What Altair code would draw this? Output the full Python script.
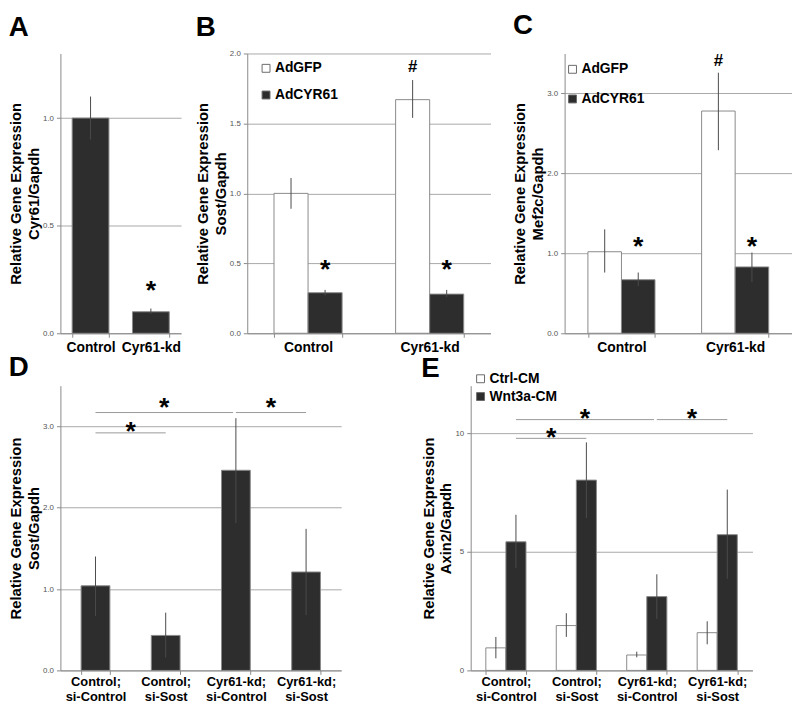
import altair as alt
import pandas as pd

FONT = "Liberation Sans"
DARK = "#2d2d2d"
EDGE = "#8a8a8a"
GRID = "#a8a8a8"
AXC = "#8a8a8a"
ERR = "#4a4a4a"
SIG = "#9a9a9a"

# ---------------- data ----------------
a_groups = ["Control", "Cyr61-kd"]
a_series = ["value"]
a_mean = [1.00, 0.10]
a_lo = [0.90, 0.09]
a_hi = [1.10, 0.115]
a_star = [None, 0.23]

b_groups = ["Control", "Cyr61-kd"]
b_series = ["AdGFP", "AdCYR61"]
b_gfp = [1.00, 1.67]
b_gfp_lo = [0.89, 1.54]
b_gfp_hi = [1.11, 1.81]
b_cyr = [0.29, 0.28]
b_cyr_lo = [0.27, 0.26]
b_cyr_hi = [0.31, 0.31]
b_star_cyr = [0.50, 0.50]
b_hash_gfp = [None, 1.91]

c_groups = ["Control", "Cyr61-kd"]
c_series = ["AdGFP", "AdCYR61"]
c_gfp = [1.02, 2.78]
c_gfp_lo = [0.76, 2.29]
c_gfp_hi = [1.30, 3.26]
c_cyr = [0.67, 0.83]
c_cyr_lo = [0.59, 0.64]
c_cyr_hi = [0.76, 1.01]
c_star_cyr = [1.17, 1.17]
c_hash_gfp = [None, 3.42]

d_groups = ["Control;\nsi-Control", "Control;\nsi-Sost",
            "Cyr61-kd;\nsi-Control", "Cyr61-kd;\nsi-Sost"]
d_series = ["value"]
d_mean = [1.04, 0.43, 2.46, 1.21]
d_lo = [0.67, 0.16, 1.81, 0.68]
d_hi = [1.40, 0.71, 3.10, 1.74]
d_cmp_from = [0, 0, 2]
d_cmp_to = [1, 2, 3]
d_cmp_line = [2.92, 3.17, 3.17]
d_cmp_star = [3.02, 3.31, 3.31]

e_groups = ["Control;\nsi-Control", "Control;\nsi-Sost",
            "Cyr61-kd;\nsi-Control", "Cyr61-kd;\nsi-Sost"]
e_series = ["Ctrl-CM", "Wnt3a-CM"]
e_ctrl = [0.95, 1.89, 0.65, 1.59]
e_ctrl_lo = [0.51, 1.41, 0.55, 1.10]
e_ctrl_hi = [1.41, 2.41, 0.79, 2.07]
e_wnt = [5.42, 8.02, 3.11, 5.72]
e_wnt_lo = [4.31, 6.42, 2.17, 3.86]
e_wnt_hi = [6.56, 9.61, 4.05, 7.62]
e_cmp_from = [0, 0, 2]
e_cmp_to = [1, 2, 3]
e_cmp_line = [9.78, 10.57, 10.57]
e_cmp_star = [10.10, 10.90, 10.90]


def panel(letter, groups, series, means, los, his, ytitle, ymax, yticks, yfmt,
          width, height, pad, fills, title_offset, legend=None, stars=None,
          hashes=None, cmp=None, cmp_series=0, multiline=False):
    n = len(groups)
    m = len(series)

    def center(i, j):
        return i + pad / 2 + (j + 0.5) * (1 - pad) / m

    bars = []
    errs = []
    for j, s in enumerate(series):
        for i, g in enumerate(groups):
            bars.append({"g": g, "s": s, "v": means[j][i]})
            errs.append({"x": center(i, j), "lo": los[j][i], "hi": his[j][i]})
    bars = pd.DataFrame(bars)
    errs = pd.DataFrame(errs)

    yscale = alt.Scale(domain=[0, ymax], nice=False, zero=True)
    yaxis = alt.Axis(values=yticks, format=yfmt, title=ytitle, grid=True,
                     gridColor=GRID, gridWidth=1, domainColor=AXC, tickColor=AXC,
                     tickSize=4, labelFontSize=8, labelColor="#555555",
                     labelFont=FONT, labelPadding=3, titleFont=FONT,
                     titleFontSize=15, titleFontWeight="bold", titleColor="black",
                     titlePadding=1, titleLineHeight=18)
    xaxis_kw = dict(title=None, labelAngle=0, labelFont=FONT,
                    labelFontSize=13 if multiline else 14, labelFontWeight="bold",
                    labelColor="black", domainColor=AXC, tickColor=AXC, tickSize=4,
                    tickBand="extent", labelPadding=1 if multiline else 3,
                    labelLineHeight=15)
    if multiline:
        xaxis_kw["labelExpr"] = "split(datum.label, '\\n')"
    xaxis = alt.Axis(**xaxis_kw)

    enc = dict(
        x=alt.X("g:N", sort=groups, axis=xaxis,
                scale=alt.Scale(paddingInner=pad, paddingOuter=pad / 2)),
        y=alt.Y("v:Q", scale=yscale, axis=yaxis),
    )
    if m > 1:
        enc["xOffset"] = alt.XOffset("s:N", sort=series,
                                     scale=alt.Scale(domain=series, paddingInner=0,
                                                     paddingOuter=0))
        if legend is not None:
            leg = alt.Legend(orient="none", legendX=legend[0], legendY=legend[1],
                             direction="vertical", title=None, symbolType="square",
                             symbolSize=64, symbolStrokeColor="#6a6a6a",
                             symbolStrokeWidth=1, labelFont=FONT, labelFontSize=14,
                             labelFontWeight="bold", labelColor="black",
                             rowPadding=legend[2], labelOffset=2, padding=0)
        else:
            leg = None
        enc["color"] = alt.Color("s:N", sort=series,
                                 scale=alt.Scale(domain=series, range=fills),
                                 legend=leg)
    else:
        enc["color"] = alt.value(fills[0])

    bar_layer = alt.Chart(bars).mark_bar(stroke=EDGE, strokeWidth=1).encode(**enc)

    xq = alt.Scale(domain=[0, n], nice=False, zero=False)
    q_layers = [
        alt.Chart(errs).mark_rule(color=ERR, strokeWidth=1).encode(
            x=alt.X("x:Q", scale=xq, axis=None),
            y=alt.Y("lo:Q", scale=yscale, axis=yaxis),
            y2="hi:Q",
        )
    ]

    star_rows = []
    hash_rows = []
    if stars is not None:
        for j in range(m):
            if stars[j] is None:
                continue
            for i in range(n):
                if stars[j][i] is not None:
                    star_rows.append({"x": center(i, j), "y": stars[j][i]})
    if hashes is not None:
        for j in range(m):
            if hashes[j] is None:
                continue
            for i in range(n):
                if hashes[j][i] is not None:
                    hash_rows.append({"x": center(i, j), "y": hashes[j][i]})
    if cmp is not None:
        f_list, t_list, line_list, star_list = cmp
        rules = []
        for f, t, ly, sy in zip(f_list, t_list, line_list, star_list):
            x1 = center(f, cmp_series)
            x2 = center(t, cmp_series)
            if t in f_list:
                x2 -= 0.04
            rules.append({"x": x1, "x2": x2, "y": ly})
            star_rows.append({"x": (x1 + x2) / 2, "y": sy})
        q_layers.append(
            alt.Chart(pd.DataFrame(rules)).mark_rule(color=SIG, strokeWidth=1).encode(
                x=alt.X("x:Q", scale=xq, axis=None),
                x2="x2:Q",
                y=alt.Y("y:Q", scale=yscale, axis=yaxis),
            )
        )
    if star_rows:
        q_layers.append(
            alt.Chart(pd.DataFrame(star_rows)).mark_text(
                text="*", font=FONT, fontSize=27, fontWeight="bold", color="black",
                baseline="alphabetic", dy=15).encode(
                x=alt.X("x:Q", scale=xq, axis=None),
                y=alt.Y("y:Q", scale=yscale, axis=yaxis),
            )
        )
    if hash_rows:
        q_layers.append(
            alt.Chart(pd.DataFrame(hash_rows)).mark_text(
                text="#", font=FONT, fontSize=17, fontWeight="bold", color="black",
                baseline="alphabetic", dy=6).encode(
                x=alt.X("x:Q", scale=xq, axis=None),
                y=alt.Y("y:Q", scale=yscale, axis=yaxis),
            )
        )

    quant = alt.layer(*q_layers)
    return alt.layer(bar_layer, quant).resolve_scale(x="independent").properties(
        width=width, height=height,
        title=alt.TitleParams(letter, anchor="start", frame="bounds", font=FONT,
                              fontSize=28, fontWeight="bold", color="black",
                              offset=title_offset, baseline="top"),
    )


TOP_H = 283
BOT_H = 288

pA = panel("A", a_groups, a_series, [a_mean], [a_lo], [a_hi],
           ["Relative Gene Expression", "Cyr61/Gapdh"], 1.3, [0, 0.5, 1.0], ".1f",
           122, TOP_H, 0.39, [DARK], 12, stars=[a_star])

pB = panel("B", b_groups, b_series, [b_gfp, b_cyr], [b_gfp_lo, b_cyr_lo],
           [b_gfp_hi, b_cyr_hi], ["Relative Gene Expression", "Sost/Gapdh"], 2.0,
           [0, 0.5, 1.0, 1.5, 2.0], ".1f", 246, TOP_H, 0.44, ["white", DARK], 8,
           legend=(12, 8, 13), stars=[None, b_star_cyr], hashes=[b_hash_gfp, None])

pC = panel("C", c_groups, c_series, [c_gfp, c_cyr], [c_gfp_lo, c_cyr_lo],
           [c_gfp_hi, c_cyr_hi], ["Relative Gene Expression", "Mef2c/Gapdh"], 3.5,
           [0, 1, 2, 3], ".1f", 230, TOP_H, 0.41, ["white", DARK], 12,
           legend=(1, 9, 16), stars=[None, c_star_cyr], hashes=[c_hash_gfp, None])

pD = panel("D", d_groups, d_series, [d_mean], [d_lo], [d_hi],
           ["Relative Gene Expression", "Sost/Gapdh"], 3.5, [0, 1, 2, 3], ".1f",
           284, BOT_H, 0.59, [DARK], 4,
           cmp=(d_cmp_from, d_cmp_to, d_cmp_line, d_cmp_star), cmp_series=0,
           multiline=True)

pE = panel("E", e_groups, e_series, [e_ctrl, e_wnt], [e_ctrl_lo, e_wnt_lo],
           [e_ctrl_hi, e_wnt_hi], ["Relative Gene Expression", "Axin2/Gapdh"], 12,
           [0, 5, 10], "d", 285, BOT_H, 0.43, ["white", DARK], -11,
           legend=(3, -14, 4),
           cmp=(e_cmp_from, e_cmp_to, e_cmp_line, e_cmp_star), cmp_series=1,
           multiline=True)

IND = dict(x="independent", y="independent", color="independent",
           xOffset="independent")

top_ab = alt.hconcat(pA, pB, spacing=14).resolve_scale(**IND)
top = alt.hconcat(top_ab, pC, spacing=22).resolve_scale(**IND)
bottom = alt.hconcat(pD, pE, spacing=81).resolve_scale(**IND)

chart = alt.vconcat(top, bottom, spacing=0).resolve_scale(**IND).properties(
    padding={"left": 0, "top": 0, "right": 0, "bottom": 0},
    background="white",
).configure_view(stroke=None)

chart.save("out.html", embed_options={"renderer": "svg", "actions": False})
